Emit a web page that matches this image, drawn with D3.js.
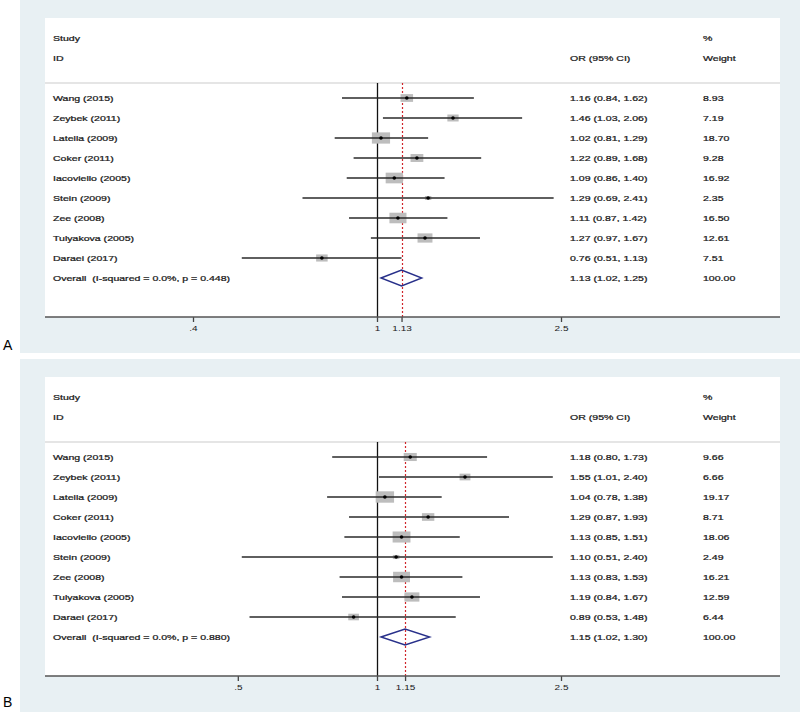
<!DOCTYPE html>
<html>
<head>
<meta charset="utf-8">
<script src="https://cdn.jsdelivr.net/npm/d3@7"></script>
<style>
  body { margin: 0; background: #fff; }
  svg { display: block; }
  text { white-space: pre; }
</style>
</head>
<body>
<div id="chart"></div>
<script>
// Study labels (same for both panels)
const studies = ["Wang (2015)", "Zeybek (2011)", "Latella (2009)", "Coker (2011)",
  "Iacoviello (2005)", "Stein (2009)", "Zee (2008)", "Tulyakova (2005)", "Daraei (2017)"];

// Panel A
const orA = [1.16, 1.46, 1.02, 1.22, 1.09, 1.29, 1.11, 1.27, 0.76];
const loA = [0.84, 1.03, 0.81, 0.89, 0.86, 0.69, 0.87, 0.97, 0.51];
const hiA = [1.62, 2.06, 1.29, 1.68, 1.40, 2.41, 1.42, 1.67, 1.13];
const wA = [8.93, 7.19, 18.70, 9.28, 16.92, 2.35, 16.50, 12.61, 7.51];
const overallA = [1.13, 1.02, 1.25];
const hetA = "Overall  (I-squared = 0.0%, p = 0.448)";
const ticksA = [0.4, 1, 1.13, 2.5];
const tickLabelsA = [".4", "1", "1.13", "2.5"];

// Panel B
const orB = [1.18, 1.55, 1.04, 1.29, 1.13, 1.10, 1.13, 1.19, 0.89];
const loB = [0.80, 1.01, 0.78, 0.87, 0.85, 0.51, 0.83, 0.84, 0.53];
const hiB = [1.73, 2.40, 1.38, 1.93, 1.51, 2.40, 1.53, 1.67, 1.48];
const wB = [9.66, 6.66, 19.17, 8.71, 18.06, 2.49, 16.21, 12.59, 6.44];
const overallB = [1.15, 1.02, 1.30];
const hetB = "Overall  (I-squared = 0.0%, p = 0.880)";
const ticksB = [0.5, 1, 1.15, 2.5];
const tickLabelsB = [".5", "1", "1.15", "2.5"];

const width = 800, height = 712;

const svg = d3.select("#chart").append("svg")
  .attr("width", width)
  .attr("height", height)
  .attr("font-family", "'Liberation Sans', Arial, sans-serif");

// log scale shared by both panels
const x = d3.scaleLog().domain([0.4, 2.5]).range([193, 561]);
const px = v => Math.round(x(v)) + 0.5;

const fmt = d3.format(".2f");
const textColour = "#1a1a1a";

// text helper: stretched horizontally like the source
function label(g, tx, ty, str, size) {
  g.append("text")
    .attr("transform", `translate(${tx},${ty}) scale(1.32,1)`)
    .attr("dy", "0.35em")
    .attr("font-size", size || 8)
    .attr("fill", textColour)
    .attr("stroke", textColour)
    .attr("stroke-width", 0.25)
    .text(str);
}

function drawPanel(top, outerH, or, lo, hi, w, overall, het, ticks, tickLabels, letter) {
  const g = svg.append("g").attr("transform", `translate(0,${top})`);

  // outer panel
  g.append("rect")
    .attr("x", 20).attr("y", 0)
    .attr("width", 780).attr("height", outerH)
    .attr("fill", "#e8f0f3");

  // plot region
  g.append("rect")
    .attr("x", 45).attr("y", 18)
    .attr("width", 735).attr("height", 299)
    .attr("fill", "#fff");

  // header
  label(g, 53, 38, "Study");
  label(g, 53, 58, "ID");
  label(g, 570, 58, "OR (95% CI)");
  label(g, 703, 38, "%");
  label(g, 703, 58, "Weight");

  g.append("line")
    .attr("x1", 45).attr("x2", 780)
    .attr("y1", 83).attr("y2", 83)
    .attr("stroke", "#dcdcdc")
    .attr("stroke-width", 1.5);

  const y = d => 98 + d * 20;

  // null line
  g.append("line")
    .attr("x1", px(1)).attr("x2", px(1))
    .attr("y1", 83).attr("y2", 317)
    .attr("stroke", "#111")
    .attr("stroke-width", 1.3);

  // overall line
  g.append("line")
    .attr("x1", px(overall[0])).attr("x2", px(overall[0]))
    .attr("y1", 83).attr("y2", 317)
    .attr("stroke", "#d0262b")
    .attr("stroke-width", 1.2)
    .attr("stroke-dasharray", "2,2");

  const rows = studies.map((s, i) => ({ s, or: or[i], lo: lo[i], hi: hi[i], w: w[i], i }));

  // boxes
  g.selectAll(".box").data(rows).enter()
    .append("rect")
    .attr("class", "box")
    .attr("x", d => x(d.or) - 2.1 * Math.sqrt(d.w))
    .attr("y", d => y(d.i) - 1.3 * Math.sqrt(d.w))
    .attr("width", d => 4.2 * Math.sqrt(d.w))
    .attr("height", d => 2.6 * Math.sqrt(d.w))
    .attr("fill", "#bdbdbd");

  // CI lines
  g.selectAll(".ci").data(rows).enter()
    .append("line")
    .attr("class", "ci")
    .attr("x1", d => x(d.lo)).attr("x2", d => x(d.hi))
    .attr("y1", d => y(d.i)).attr("y2", d => y(d.i))
    .attr("stroke", "#2a2a2a")
    .attr("stroke-width", 1.4);

  // point estimates
  g.selectAll(".pt").data(rows).enter()
    .append("circle")
    .attr("class", "pt")
    .attr("cx", d => x(d.or)).attr("cy", d => y(d.i))
    .attr("r", 1.8)
    .attr("fill", "#000");

  // row text
  rows.forEach(d => {
    label(g, 53, y(d.i), d.s);
    label(g, 570, y(d.i), `${fmt(d.or)} (${fmt(d.lo)}, ${fmt(d.hi)})`);
    label(g, 703, y(d.i), fmt(d.w));
  });

  // overall diamond
  const yo = y(9);
  g.append("path")
    .attr("d", `M${x(overall[1])},${yo} L${x(overall[0])},${yo - 8} L${x(overall[2])},${yo} L${x(overall[0])},${yo + 8} Z`)
    .attr("fill", "none")
    .attr("stroke", "#28308a")
    .attr("stroke-width", 1.4);

  label(g, 53, yo, het);
  label(g, 570, yo, `${fmt(overall[0])} (${fmt(overall[1])}, ${fmt(overall[2])})`);
  label(g, 703, yo, "100.00");

  // axis
  const axis = d3.axisBottom(x)
    .tickValues(ticks)
    .tickFormat((d, i) => tickLabels[i])
    .tickSize(5)
    .tickPadding(3);

  const ax = g.append("g")
    .attr("transform", "translate(0,317)")
    .call(axis);
  ax.select(".domain").remove();
  ax.selectAll(".tick line").attr("stroke", "#444").attr("stroke-width", 1.3);
  ax.selectAll(".tick text")
    .attr("font-size", 8)
    .attr("font-family", "'Liberation Sans', Arial, sans-serif")
    .attr("fill", textColour)
    .attr("transform", "scale(1.25,1)");

  g.append("line")
    .attr("x1", 45).attr("x2", 780)
    .attr("y1", 317).attr("y2", 317)
    .attr("stroke", "#555")
    .attr("stroke-width", 1.5);

  // panel letter
  svg.append("text")
    .attr("x", 3).attr("y", letter === "A" ? 345 : 702)
    .attr("dy", "0.35em")
    .attr("font-size", 14)
    .attr("fill", "#000")
    .text(letter);
}

drawPanel(0, 353, orA, loA, hiA, wA, overallA, hetA, ticksA, tickLabelsA, "A");
drawPanel(359, 353, orB, loB, hiB, wB, overallB, hetB, ticksB, tickLabelsB, "B");
</script>
</body>
</html>
